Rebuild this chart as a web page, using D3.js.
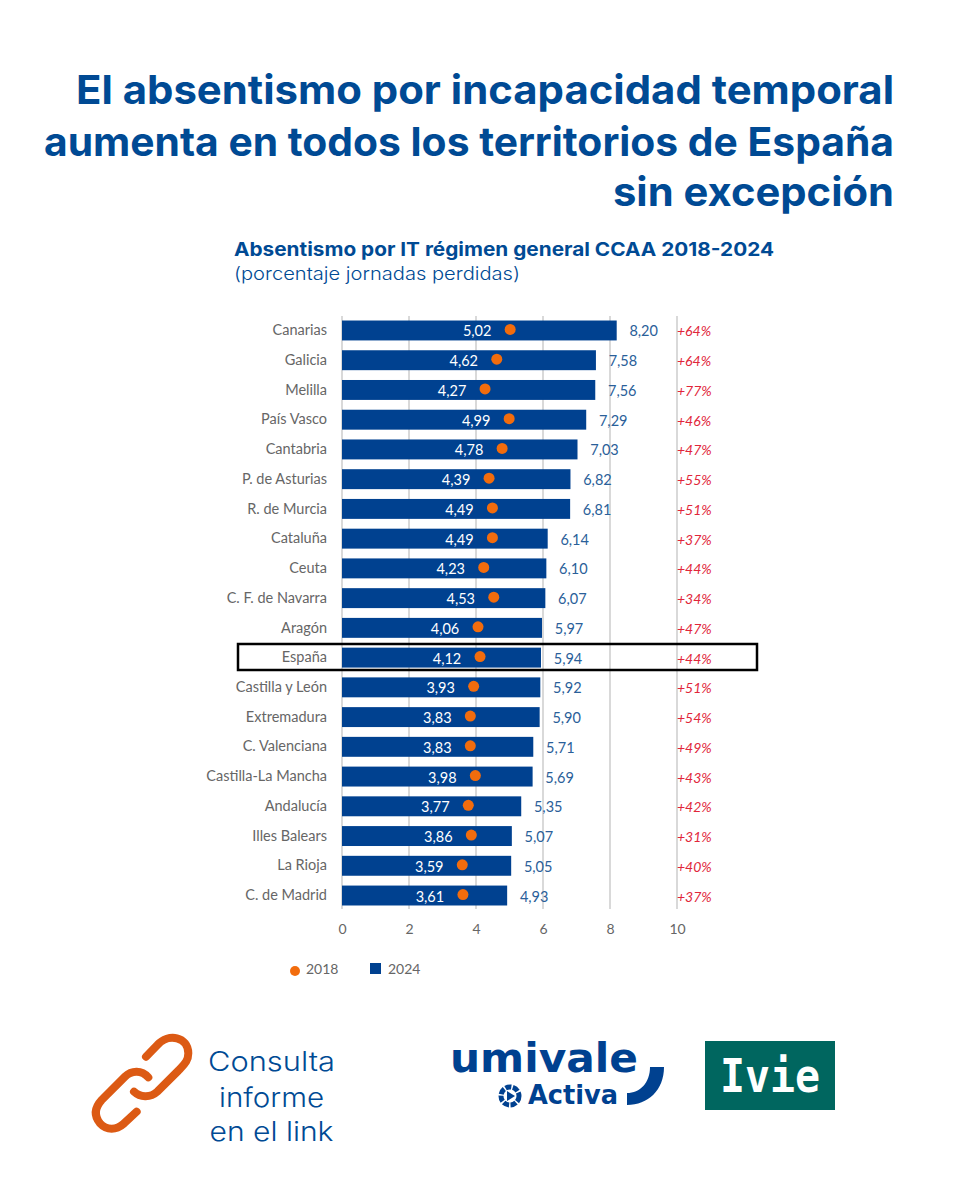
<!DOCTYPE html>
<html>
<head>
<meta charset="utf-8">
<script src="https://cdn.jsdelivr.net/npm/d3@7"></script>
<style>
  html, body { margin: 0; padding: 0; background: #fff; }
  svg { display: block; }
  text { font-family: Lato, sans-serif; }
</style>
</head>
<body>
<svg id="chart" width="960" height="1200"></svg>
<script>
const categories = ['Canarias', 'Galicia', 'Melilla', 'País Vasco', 'Cantabria', 'P. de Asturias', 'R. de Murcia',
  'Cataluña', 'Ceuta', 'C. F. de Navarra', 'Aragón', 'España', 'Castilla y León', 'Extremadura', 'C. Valenciana',
  'Castilla-La Mancha', 'Andalucía', 'Illes Balears', 'La Rioja', 'C. de Madrid'];
const values2018 = [5.02, 4.62, 4.27, 4.99, 4.78, 4.39, 4.49, 4.49, 4.23, 4.53, 4.06, 4.12, 3.93, 3.83, 3.83, 3.98, 3.77, 3.86, 3.59, 3.61];
const values2024 = [8.20, 7.58, 7.56, 7.29, 7.03, 6.82, 6.81, 6.14, 6.10, 6.07, 5.97, 5.94, 5.92, 5.90, 5.71, 5.69, 5.35, 5.07, 5.05, 4.93];
const changes = ['+64%', '+64%', '+77%', '+46%', '+47%', '+55%', '+51%', '+37%', '+44%', '+34%', '+47%', '+44%', '+51%', '+54%', '+49%', '+43%', '+42%', '+31%', '+40%', '+37%'];
const xTicks = [0, 2, 4, 6, 8, 10];

const BLUE = '#004190';
const INK = '#004a94';
const ORANGE = '#f26c0d';
const GREY = '#666';

const svg = d3.select('#chart');
const fmt = v => v.toFixed(2).replace('.', ',');

// title block, squeezed to the widths of the original typeface
const titleLines = [
  ['El absentismo por incapacidad temporal', 104, 818],
  ['aumenta en todos los territorios de España', 156, 850],
  ['sin excepción', 206, 281]
];
svg.selectAll('.title')
  .data(titleLines)
  .enter().append('text')
  .attr('class', 'title')
  .attr('x', d => 894 - d[2])
  .attr('y', d => d[1])
  .attr('textLength', d => d[2])
  .attr('lengthAdjust', 'spacingAndGlyphs')
  .style('font-family', 'Inter')
  .style('font-weight', 700)
  .style('font-size', '40px')
  .style('fill', INK)
  .text(d => d[0]);

svg.append('text').attr('x', 234).attr('y', 256)
  .attr('textLength', 540).attr('lengthAdjust', 'spacingAndGlyphs')
  .style('font-family', 'Inter').style('font-weight', 700).style('font-size', '19px')
  .style('fill', INK)
  .text('Absentismo por IT régimen general CCAA 2018-2024');
svg.append('text').attr('x', 234).attr('y', 280)
  .attr('textLength', 286).attr('lengthAdjust', 'spacingAndGlyphs')
  .style('font-family', 'Inter').style('font-size', '18px').style('font-weight', 300).style('fill', INK)
  .text('(porcentaje jornadas perdidas)');

// scales
const x = d3.scaleLinear().domain([0, 10]).range([342, 677]);
const y = d3.scaleBand().domain(categories).range([315.6, 910.4]).paddingInner(0.33).paddingOuter(0.165);
const rowMid = c => y(c) + y.bandwidth() / 2;

const rows = categories.map((c, i) => ({ c, a: values2018[i], b: values2024[i], pct: changes[i] }));

// gridlines sit behind the bars
svg.append('g').selectAll('line')
  .data(xTicks)
  .enter().append('line')
  .attr('x1', d => x(d)).attr('x2', d => x(d))
  .attr('y1', 316).attr('y2', 909)
  .attr('stroke', '#d9d9d9').attr('stroke-width', 2);

svg.append('g').selectAll('rect')
  .data(rows)
  .enter().append('rect')
  .attr('x', x(0))
  .attr('y', d => y(d.c))
  .attr('width', d => x(d.b) - x(0))
  .attr('height', y.bandwidth())
  .attr('fill', BLUE);

// axes
const xAxis = svg.append('g')
  .attr('transform', 'translate(0,909)')
  .call(d3.axisBottom(x).tickValues(xTicks).tickFormat(d3.format('d')).tickSize(0).tickPadding(15));
xAxis.select('.domain').remove();
xAxis.selectAll('text').style('font-family', 'Lato').style('font-size', '14px').style('fill', GREY);

const yAxis = svg.append('g')
  .attr('transform', 'translate(342,0)')
  .call(d3.axisLeft(y).tickSize(0).tickPadding(15));
yAxis.select('.domain').remove();
yAxis.selectAll('text').style('font-family', 'Lato').style('font-size', '14.5px').style('fill', GREY);

// dots and labels
svg.append('g').selectAll('circle')
  .data(rows)
  .enter().append('circle')
  .attr('cx', d => x(d.a))
  .attr('cy', d => rowMid(d.c) - 1)
  .attr('r', 5.5)
  .attr('fill', ORANGE);

svg.append('g').selectAll('text')
  .data(rows)
  .enter().append('text')
  .attr('x', d => x(d.a) - 33)
  .attr('y', d => rowMid(d.c) + 6)
  .attr('text-anchor', 'middle')
  .style('font-size', '14.5px').style('fill', '#fff')
  .text(d => fmt(d.a));

svg.append('g').selectAll('text')
  .data(rows)
  .enter().append('text')
  .attr('x', d => x(d.b) + 27)
  .attr('y', d => rowMid(d.c) + 6)
  .attr('text-anchor', 'middle')
  .style('font-size', '14.5px').style('fill', '#2a6099')
  .text(d => fmt(d.b));

svg.append('g').selectAll('text')
  .data(rows)
  .enter().append('text')
  .attr('x', 677)
  .attr('y', d => rowMid(d.c) + 6)
  .style('font-size', '14px').style('font-style', 'italic').style('fill', '#e1263a')
  .text(d => d.pct);

// España highlight
svg.append('rect')
  .attr('x', 238).attr('y', 644).attr('width', 519).attr('height', 26)
  .attr('fill', 'none').attr('stroke', '#000').attr('stroke-width', 2.5);

// legend
svg.append('circle').attr('cx', 295).attr('cy', 971).attr('r', 5).attr('fill', ORANGE);
svg.append('text').attr('x', 306).attr('y', 974).style('font-size', '14px').style('fill', GREY).text('2018');
svg.append('rect').attr('x', 370).attr('y', 963).attr('width', 11).attr('height', 11).attr('fill', BLUE);
svg.append('text').attr('x', 388).attr('y', 974).style('font-size', '14px').style('fill', GREY).text('2024');

// link icon
const icon = svg.append('g').attr('transform', 'translate(70,1020) scale(0.3333)')
  .attr('fill', 'none').attr('stroke', '#dc5a14').attr('stroke-width', 24).attr('stroke-linecap', 'round');
icon.append('path').attr('d', 'M228 110 L262 75 C295 38 355 50 355 100 C355 125 340 135 325 152 L262 215 C240 235 210 232 192 215');
icon.append('path').attr('d', 'M235 172 C215 150 185 150 165 170 L95 240 C75 262 70 285 90 310 C110 332 140 330 160 312 L200 275');

const linkLines = [['Consulta', 1071, 127], ['informe', 1107, 105], ['en el link', 1141, 124]];
svg.selectAll('.link')
  .data(linkLines)
  .enter().append('text')
  .attr('class', 'link')
  .attr('x', d => 271.5 - d[2] / 2)
  .attr('y', d => d[1])
  .attr('textLength', d => d[2])
  .attr('lengthAdjust', 'spacingAndGlyphs')
  .style('font-family', 'Inter').style('font-size', '27px').style('font-weight', 300).style('fill', INK)
  .text(d => d[0]);

// umivale Activa logo
svg.append('text').attr('x', 450).attr('y', 1072).attr('textLength', 188).attr('lengthAdjust', 'spacingAndGlyphs')
  .style('font-family', 'DejaVu Sans').style('font-weight', 700).style('font-size', '40px').style('fill', BLUE)
  .text('umivale');
svg.append('text').attr('x', 528).attr('y', 1104).attr('textLength', 90).attr('lengthAdjust', 'spacingAndGlyphs')
  .style('font-family', 'DejaVu Sans').style('font-weight', 700).style('font-size', '26px').style('fill', BLUE)
  .text('Activa');
svg.append('path').attr('d', 'M650 1067 L664 1067 C664 1090 648 1105 627 1105 L627 1093 C640 1093 650 1083 650 1067 Z').attr('fill', BLUE);
svg.append('circle').attr('cx', 510).attr('cy', 1096).attr('r', 9)
  .attr('fill', 'none').attr('stroke', BLUE).attr('stroke-width', 5).attr('stroke-dasharray', '6 1.5');
svg.append('path').attr('d', 'M507 1091 L515 1096 L507 1101 Z').attr('fill', BLUE);

// Ivie logo
svg.append('rect').attr('x', 705).attr('y', 1041).attr('width', 130).attr('height', 69).attr('fill', '#00665f');
svg.append('text').attr('x', 720).attr('y', 1092)
  .attr('textLength', 100).attr('lengthAdjust', 'spacingAndGlyphs')
  .style('font-family', 'DejaVu Sans Mono').style('font-weight', 700).style('font-size', '47px').style('fill', '#fff')
  .text('Ivie');
</script>
</body>
</html>
